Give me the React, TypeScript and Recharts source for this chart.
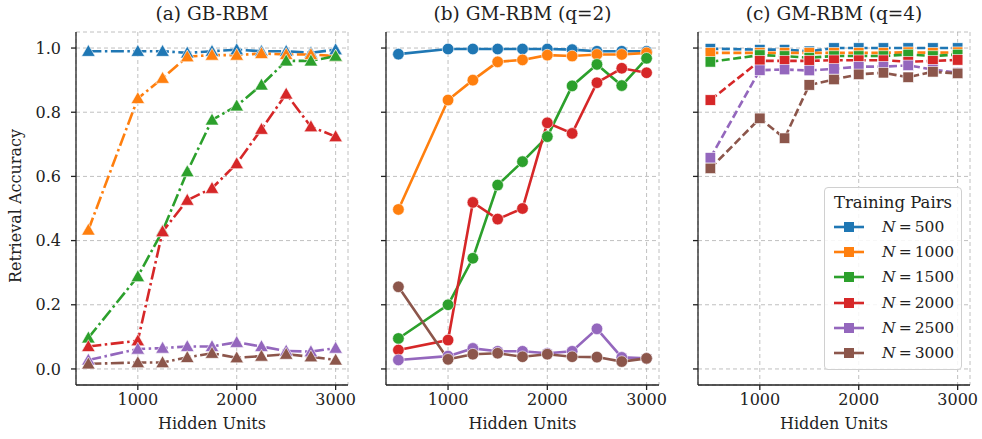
import React from 'react';
import { LineChart, Line, XAxis, YAxis, CartesianGrid } from 'recharts';

const hiddenUnits = [500, 1000, 1250, 1500, 1750, 2000, 2250, 2500, 2750, 3000];
const trainingPairs = [500, 1000, 1500, 2000, 2500, 3000];
const COLORS = ['#1f77b4', '#ff7f0e', '#2ca02c', '#d62728', '#9467bd', '#8c564b'];
const yTicks = [0, 0.2, 0.4, 0.6, 0.8, 1.0];
const xTicks = [1000, 2000, 3000];

// (a) GB-RBM, one row per N
const gbRbm = [
  [0.99, 0.99, 0.99, 0.985, 0.99, 0.995, 0.99, 0.99, 0.985, 0.995],
  [0.433, 0.843, 0.906, 0.973, 0.978, 0.978, 0.983, 0.98, 0.98, 0.975],
  [0.097, 0.288, 0.43, 0.615, 0.776, 0.82, 0.885, 0.96, 0.96, 0.975],
  [0.07, 0.088, 0.428, 0.526, 0.563, 0.64, 0.747, 0.857, 0.755, 0.724],
  [0.028, 0.062, 0.065, 0.07, 0.07, 0.083, 0.07, 0.056, 0.054, 0.065],
  [0.016, 0.02, 0.02, 0.036, 0.049, 0.035, 0.04, 0.046, 0.038, 0.028],
];

// (b) GM-RBM (q=2)
const gmRbmQ2 = [
  [0.981, 0.997, 0.997, 0.997, 0.997, 0.997, 0.995, 0.99, 0.99, 0.99],
  [0.497, 0.838, 0.9, 0.957, 0.963, 0.978, 0.975, 0.98, 0.98, 0.985],
  [0.095, 0.2, 0.345, 0.573, 0.646, 0.724, 0.882, 0.949, 0.883, 0.968],
  [0.059, 0.09, 0.519, 0.467, 0.5, 0.767, 0.734, 0.892, 0.937, 0.923],
  [0.028, 0.04, 0.064, 0.055, 0.055, 0.049, 0.055, 0.125, 0.036, 0.033],
  [0.256, 0.03, 0.046, 0.049, 0.038, 0.046, 0.038, 0.037, 0.023, 0.033],
];

// (c) GM-RBM (q=4)
const gmRbmQ4 = [
  [0.998, 0.995, 0.995, 0.99, 1.0, 1.0, 1.0, 1.0, 1.0, 1.0],
  [0.985, 0.985, 0.985, 0.985, 0.985, 0.985, 0.985, 0.987, 0.985, 0.987],
  [0.957, 0.978, 0.975, 0.97, 0.975, 0.975, 0.975, 0.98, 0.975, 0.98],
  [0.838, 0.96, 0.96, 0.96, 0.962, 0.962, 0.962, 0.957, 0.96, 0.963],
  [0.658, 0.931, 0.933, 0.93, 0.935, 0.942, 0.942, 0.946, 0.933, 0.923],
  [0.625, 0.781, 0.719, 0.885, 0.902, 0.918, 0.923, 0.909, 0.926, 0.921],
];

const FONT = "'DejaVu Serif', serif";

const toRows = (series: number[][]) =>
  hiddenUnits.map((h, i) => {
    const row: Record<string, number> = { x: h };
    series.forEach((s, k) => {
      row[`s${k}`] = s[i];
    });
    return row;
  });

const makeDot = (shape: string, color: string) => (props: any) => {
  const { cx, cy, index } = props;
  if (cx == null || cy == null) return <g key={`d-${index}`} />;
  if (shape === 'triangle') {
    const r = 6.8;
    return (
      <polygon
        key={`d-${index}`}
        points={`${cx},${cy - r} ${cx - r},${cy + r * 0.75} ${cx + r},${cy + r * 0.75}`}
        fill={color}
        stroke="#ffffff"
        strokeWidth={0.6}
      />
    );
  }
  if (shape === 'square') {
    const s = 10.5;
    return (
      <rect key={`d-${index}`} x={cx - s / 2} y={cy - s / 2} width={s} height={s}
        fill={color} stroke="#ffffff" strokeWidth={0.6} />
    );
  }
  return <circle key={`d-${index}`} cx={cx} cy={cy} r={5.8} fill={color} stroke="#ffffff" strokeWidth={0.6} />;
};

interface PanelProps {
  left: number;
  width: number;
  yWidth: number;
  showYLabels: boolean;
  series: number[][];
  shape: string;
  dash?: string;
  title: string;
}

const Panel = ({ left, width, yWidth, showYLabels, series, shape, dash, title }: PanelProps) => {
  const rows = toRows(series);
  const plotLeft = left + yWidth;
  const plotRight = left + width - 12;
  return (
    <>
      <div
        style={{
          position: 'absolute',
          left: plotLeft,
          width: plotRight - plotLeft,
          top: 2,
          textAlign: 'center',
          fontSize: 18.5,
          lineHeight: '24px',
          fontFamily: FONT,
          color: '#222',
        }}
      >
        {title}
      </div>
      <div
        style={{
          position: 'absolute',
          left: plotLeft,
          width: plotRight - plotLeft,
          top: 413,
          textAlign: 'center',
          fontSize: 16,
          lineHeight: '22px',
          fontFamily: FONT,
          color: '#222',
        }}
      >
        Hidden Units
      </div>
      <div style={{ position: 'absolute', left, top: 0, fontFamily: FONT }}>
        <LineChart width={width} height={439} data={rows} margin={{ top: 32, right: 12, bottom: 24, left: 0 }}>
          <CartesianGrid stroke="#b0b0b0" strokeDasharray="4 3" strokeWidth={0.8} />
          <XAxis
            dataKey="x"
            type="number"
            domain={[375, 3125]}
            ticks={xTicks}
            height={30}
            tickSize={5}
            tickMargin={4}
            stroke="#222"
            strokeWidth={1.3}
            tick={{ fill: '#222', fontSize: 16, fontFamily: FONT }}
          />
          <YAxis
            type="number"
            domain={[-0.05, 1.05]}
            ticks={yTicks}
            width={yWidth}
            tickSize={5}
            tickMargin={10}
            stroke="#222"
            strokeWidth={1.3}
            tickFormatter={(v: number) => (showYLabels ? v.toFixed(1) : '')}
            tick={{ fill: '#222', fontSize: 16, fontFamily: FONT }}
          />
          {series.map((_, k) => (
            <Line
              key={k}
              dataKey={`s${k}`}
              stroke={COLORS[k]}
              strokeWidth={2.6}
              strokeDasharray={dash}
              dot={makeDot(shape, COLORS[k])}
              activeDot={false}
              isAnimationActive={false}
            />
          ))}
        </LineChart>
      </div>
    </>
  );
};

const Legend = () => (
  <div
    style={{
      position: 'absolute',
      left: 824,
      top: 187,
      width: 136,
      height: 181,
      background: 'rgba(255,255,255,0.85)',
      border: '1px solid #d0d0d0',
      borderRadius: 4,
      fontFamily: FONT,
      color: '#222',
    }}
  >
    <div style={{ textAlign: 'center', fontSize: 16.5, marginTop: 4, lineHeight: '22px' }}>Training Pairs</div>
    {trainingPairs.map((n, k) => (
      <div key={n} style={{ display: 'flex', alignItems: 'center', height: 25.3, marginLeft: 9 }}>
        <svg width={30} height={14} style={{ display: 'block' }}>
          <line x1={0} y1={7} x2={30} y2={7} stroke={COLORS[k]} strokeWidth={2.6} />
          <rect x={10} y={2} width={10} height={10} fill={COLORS[k]} />
        </svg>
        <span style={{ fontSize: 15.5, marginLeft: 18 }}>
          <i>N</i>&thinsp;=&thinsp;{n}
        </span>
      </div>
    ))}
  </div>
);

export default function App() {
  return (
    <div style={{ position: 'absolute', left: 0, top: 0, width: 982, height: 439, background: '#fff' }}>
      <Panel left={0} width={360} yWidth={76} showYLabels series={gbRbm} shape="triangle" dash="13 3.5 2.5 3.5" title="(a) GB-RBM" />
      <Panel left={360} width={311} yWidth={26} showYLabels={false} series={gmRbmQ2} shape="circle" title="(b) GM-RBM (q=2)" />
      <Panel left={672} width={310} yWidth={26} showYLabels={false} series={gmRbmQ4} shape="square" dash="8 3.5" title="(c) GM-RBM (q=4)" />
      <div
        style={{
          position: 'absolute',
          left: 15,
          top: 206,
          transform: 'translate(-50%, -50%) rotate(-90deg)',
          whiteSpace: 'nowrap',
          fontSize: 16,
          fontFamily: FONT,
          color: '#222',
        }}
      >
        Retrieval Accuracy
      </div>
      <Legend />
    </div>
  );
}
